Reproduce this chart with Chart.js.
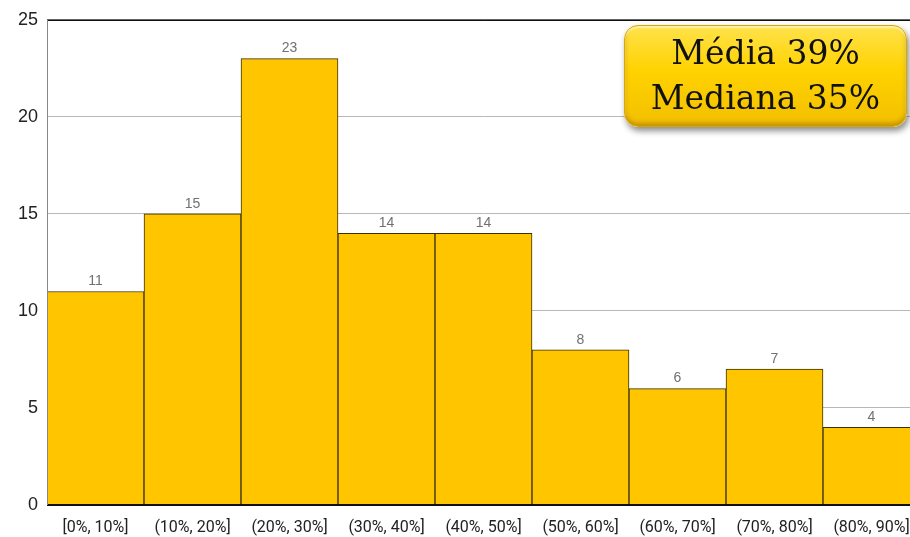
<!DOCTYPE html>
<html>
<head>
<meta charset="utf-8">
<script src="https://cdn.jsdelivr.net/npm/chart.js@4"></script>
<style>
html,body{margin:0;padding:0;background:#fff;width:910px;height:537px;overflow:hidden;position:relative;}
#wrap{position:absolute;left:0;top:0;width:920px;height:537px;}
#box{position:absolute;left:624px;top:25px;width:283px;height:102px;border-radius:14px;
 background:linear-gradient(to bottom,#ffe24a 0%,#ffd200 45%,#f2bf00 100%);
 box-shadow:2px 4px 6px rgba(0,0,0,0.45), inset 0 2px 2px rgba(255,255,255,0.6), inset 0 -3px 4px rgba(150,100,0,0.5);
 border:1px solid #d9a800;
 font-family:"DejaVu Serif","Liberation Serif",serif;font-size:33px;line-height:45px;color:#111;
 text-align:center;box-sizing:border-box;padding-top:4px;}
</style>
</head>
<body>
<div id="wrap"><canvas id="c" width="920" height="537"></canvas></div>
<div id="box">Média 39%<br>Mediana 35%</div>
<script>
const categories = ["[0%, 10%]","(10%, 20%]","(20%, 30%]","(30%, 40%]","(40%, 50%]","(50%, 60%]","(60%, 70%]","(70%, 80%]","(80%, 90%]"];
const counts = [11, 15, 23, 14, 14, 8, 6, 7, 4];
const yTicks = [0, 5, 10, 15, 20, 25];

const labelPlugin = {
  id: 'vals',
  afterDatasetsDraw(chart) {
    const ctx = chart.ctx;
    const meta = chart.getDatasetMeta(0);
    ctx.save();
    ctx.font = '14px "Liberation Sans", Arial, sans-serif';
    ctx.fillStyle = '#707070';
    ctx.textAlign = 'center';
    ctx.textBaseline = 'bottom';
    meta.data.forEach((bar, i) => {
      ctx.fillText(String(counts[i]), bar.x, bar.y - 3);
    });
    ctx.restore();
  }
};
const frame = {
  id: 'frame',
  afterDatasetsDraw(chart) {
    const {ctx, chartArea: a} = chart;
    ctx.save();
    ctx.strokeStyle = '#111';
    ctx.lineWidth = 1.5;
    ctx.beginPath(); ctx.moveTo(a.left, a.top + 0.5); ctx.lineTo(a.right, a.top + 0.5); ctx.stroke();
    ctx.lineWidth = 2;
    ctx.beginPath(); ctx.moveTo(a.left, a.bottom); ctx.lineTo(a.right, a.bottom); ctx.stroke();
    ctx.strokeStyle = '#888';
    ctx.lineWidth = 1;
    ctx.beginPath(); ctx.moveTo(a.left + 0.5, a.top); ctx.lineTo(a.left + 0.5, a.bottom); ctx.stroke();
    ctx.restore();
  }
};

new Chart(document.getElementById('c'), {
  type: 'bar',
  data: {
    labels: categories,
    datasets: [{
      data: counts,
      backgroundColor: '#ffc600',
      borderColor: '#3a3000',
      borderWidth: 1,
      barPercentage: 1,
      categoryPercentage: 1
    }]
  },
  options: {
    responsive: false,
    animation: false,
    layout: { padding: { top: 18, right: 0, left: 0, bottom: 0 } },
    plugins: { legend: { display: false }, tooltip: { enabled: false } },
    scales: {
      x: {
        grid: { display: false },
        border: { display: false },
        ticks: { color: '#222', font: { family: 'Roboto, "Liberation Sans", sans-serif', size: 16 }, maxRotation: 0, autoSkip: false, padding: 5 },
        afterFit(s) { s.height = 32; }
      },
      y: {
        min: 0, max: 25,
        afterBuildTicks(s) { s.ticks = yTicks.map(v => ({ value: v })); },
        grid: { color: '#b8b8b8', lineWidth: 1, drawTicks: false },
        border: { display: false },
        ticks: { color: '#222', font: { family: '"Liberation Sans", Arial, sans-serif', size: 18 }, padding: 9 },
        afterFit(s) { s.width = 47; }
      }
    }
  },
  plugins: [labelPlugin, frame]
});
</script>
</body>
</html>
